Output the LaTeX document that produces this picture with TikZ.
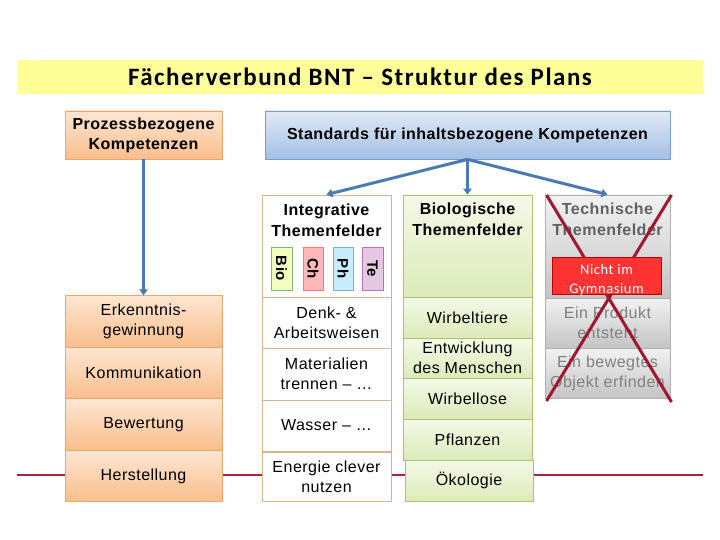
\documentclass[tikz,border=0pt]{standalone}
\usepackage{fontspec}
\setmainfont[LetterSpace=3]{Liberation Sans}
\newfontfamily\calfont[LetterSpace=6]{Carlito}
\newfontfamily\notefont[LetterSpace=4]{Carlito}
\usetikzlibrary{arrows.meta}
\definecolor{titleYellow}{HTML}{FFFF99}
\definecolor{orangeTop}{HTML}{FDE6D2}
\definecolor{orangeBot}{HTML}{F9BE8C}
\definecolor{orangeLine}{HTML}{E8A66A}
\definecolor{blueTop}{HTML}{E1EAF6}
\definecolor{blueBot}{HTML}{A3BFE3}
\definecolor{blueLine}{HTML}{7C9CC8}
\definecolor{greenTop}{HTML}{F4F9E8}
\definecolor{greenBot}{HTML}{DCEBB8}
\definecolor{greenLine}{HTML}{A9C46E}
\definecolor{grayTop}{HTML}{F2F2F2}
\definecolor{grayBot}{HTML}{C4C4C4}
\definecolor{grayLine}{HTML}{B0B0B0}
\definecolor{tanLine}{HTML}{D8B48C}
\definecolor{arrowBlue}{HTML}{4A7AB5}
\definecolor{crossRed}{HTML}{A01830}
\definecolor{lineRed}{HTML}{A0283A}
\definecolor{noteRed}{HTML}{FF3333}
\definecolor{noteLine}{HTML}{C00000}

\tikzset{
  cell/.style={draw, align=center, inner sep=1pt, line width=0.8pt,
    font=\fontsize{16}{20}\selectfont},
  orangecell/.style={cell, draw=orangeLine, top color=orangeTop, bottom color=orangeBot},
  bluecell/.style={cell, draw=blueLine, top color=blueTop, bottom color=blueBot},
  greencell/.style={cell, draw=greenLine, top color=greenTop, bottom color=greenBot},
  graycell/.style={cell, draw=grayLine, top color=grayTop, bottom color=grayBot, text=black!50},
  whitecell/.style={cell, draw=tanLine, fill=white},
  colhead/.style={anchor=north, align=center, inner sep=0pt,
    font=\fontsize{16}{21}\selectfont\bfseries},
  tab/.style={draw, rotate=-90, minimum width=43, minimum height=20.5, inner sep=0pt,
    font=\fontsize{15}{16}\selectfont\bfseries},
  flow/.style={arrowBlue, line width=3pt, -{Triangle[length=6pt,width=8.5pt]}},
}

\begin{document}
\begin{tikzpicture}[x=1pt,y=-1pt]
\useasboundingbox (0,0) rectangle (720,540);
% red line behind the columns
\coordinate (lineL) at (17,475);
\coordinate (lineR) at (703,475);
\draw[lineRed, line width=2.5pt] (lineL) -- (lineR);

% title bar
\node[fill=titleYellow, minimum width=686, minimum height=34, inner sep=0pt,
  font=\calfont\fontsize{25}{28}\selectfont\bfseries] (title) at (360,77)
  {Fächerverbund BNT – Struktur des Plans};

% heads
\node[orangecell, font=\fontsize{16}{20}\selectfont\bfseries, minimum width=157, minimum height=48]
  (proz) at (143.5,135) {Prozessbezogene\\Kompetenzen};
\node[bluecell, font=\fontsize{16}{20}\selectfont\bfseries, minimum width=405, minimum height=48]
  (std) at (467.5,135) {Standards für inhaltsbezogene Kompetenzen};

% process column
\node[orangecell, minimum width=157, minimum height=51.5] (erk) at (143.5,321.5) {Erkenntnis-\\gewinnung};
\node[orangecell, minimum width=157, minimum height=51.5] (kom) at (143.5,373) {Kommunikation};
\node[orangecell, minimum width=157, minimum height=51.5] (bew) at (143.5,424.5) {Bewertung};
\node[orangecell, minimum width=157, minimum height=51.5] (her) at (143.5,476) {Herstellung};

% integrative column
\node[whitecell, minimum width=129, minimum height=102] (integ) at (326.5,246) {};
\node[colhead] (integT) at ([yshift=-9]integ.north) {Integrative\\Themenfelder};
\node[tab, draw=green!45!black!50, fill=green!20!yellow!25] (tBio) at (281.5,268.5) {Bio};
\node[tab, draw=red!55, fill=red!28] (tCh) at (313,268.5) {Ch};
\node[tab, draw=cyan!60!black!60, fill=cyan!22] (tPh) at (343,268.5) {Ph};
\node[tab, draw=violet!55, fill=violet!22] (tTe) at (372.5,268.5) {Te};
\node[whitecell, minimum width=129, minimum height=51] (denk) at (326.5,322.5) {Denk- \&\\Arbeitsweisen};
\node[whitecell, minimum width=129, minimum height=52] (mat) at (326.5,374) {Materialien\\trennen – …};
\node[whitecell, minimum width=129, minimum height=51] (was) at (326.5,425.5) {Wasser – …};
\node[whitecell, minimum width=129, minimum height=49] (ene) at (326.5,476.5) {Energie clever\\nutzen};

% biology column
\node[greencell, minimum width=129, minimum height=102] (bio) at (467.5,246) {};
\node[colhead] (bioT) at ([yshift=-8]bio.north) {Biologische\\Themenfelder};
\node[greencell, minimum width=129, minimum height=41] (wirb) at (467.5,317.5) {Wirbeltiere};
\node[greencell, minimum width=129, minimum height=40] (ent) at (467.5,358) {Entwicklung\\des Menschen};
\node[greencell, minimum width=129, minimum height=41] (wirl) at (467.5,398.5) {Wirbellose};
\node[greencell, minimum width=129, minimum height=41] (pfl) at (467.5,439.5) {Pflanzen};
\node[greencell, minimum width=128, minimum height=41] (oek) at (469,480.5) {Ökologie};

% technical column
\node[graycell, minimum width=125, minimum height=103] (tech) at (607.5,246.5) {};
\node[colhead, text=black!62] (techT) at ([yshift=-8]tech.north) {Technische\\Themenfelder};
\node[graycell, minimum width=125, minimum height=50] (prod) at (607.5,323) {Ein Produkt\\entsteht};
\node[graycell, minimum width=125, minimum height=50] (obj) at (607.5,373) {Ein bewegtes\\Objekt erfinden};

% arrows
\draw[flow] (proz.south) -- (erk.north);
\draw[flow] (std.south) -- (integ.north);
\draw[flow] (std.south) -- (bio.north);
\draw[flow] (std.south) -- (tech.north);

% cross over the technical column
\coordinate (xTL) at (546.5,195);
\coordinate (xTR) at (671.5,195);
\coordinate (xBL) at (546.5,401);
\coordinate (xBR) at (671.5,402);
\draw[crossRed, line width=3pt] (xTL) -- (xBR);
\draw[crossRed, line width=3pt] (xTR) -- (xBL);
\node[draw=noteLine, fill=noteRed, minimum width=109, minimum height=37] (nicht) at (606.5,275.5) {};
\node[text=white, align=center, inner sep=0pt, font=\notefont\fontsize{14.5}{19}\selectfont]
  (nichtT) at ([yshift=-5pt]nicht.center) {Nicht im\\Gymnasium};
\end{tikzpicture}
\end{document}
